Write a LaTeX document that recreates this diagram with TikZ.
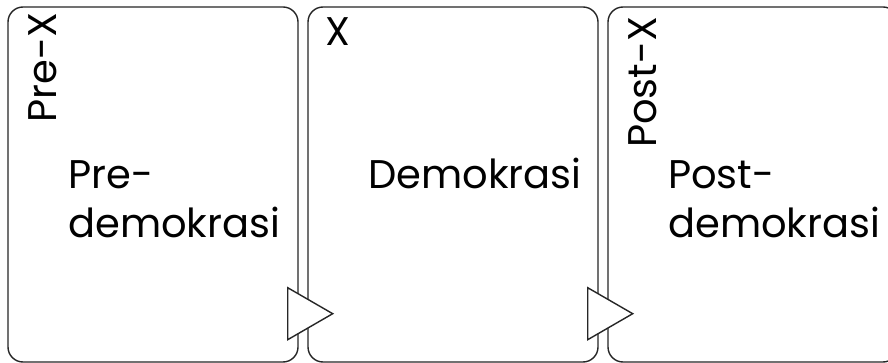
\documentclass[tikz,border=0pt]{standalone}
\usepackage{fontspec}
\setmainfont{Poppins}
\usetikzlibrary{calc}

\begin{document}
\begin{tikzpicture}[x=1pt,y=-1pt]
\tikzset{
	stage/.style={draw=black!85,line width=1.4pt,rounded corners=15pt,
		minimum width=290pt,minimum height=355pt,inner sep=0pt},
	bigtext/.style={font=\fontsize{40}{48}\selectfont,anchor=base west,inner sep=0pt},
	arrowtip/.style={draw=black!85,line width=1.4pt,fill=white,line join=miter}
}
\clip (0,0) rectangle (888,363);
\fill[white] (0,0) rectangle (888,363);
% the three stages
\node(pre)[stage] at (153,184.5) {};
\node(demo)[stage] at (453,184.5) {};
\node(post)[stage] at (753,184.5) {};
% small labels in the corners
\node(labelpre)[bigtext,rotate=90] at (56,123) {Pre-X};
\node(labeldemo)[bigtext] at (325,46) {X};
\node(labelpost)[bigtext,rotate=90] at (656,148) {Post-X};
% main texts
\node(textpre)[bigtext] at (68,189) {Pre-};
\node(textpre2)[bigtext] at (68,237) {demokrasi};
\node(textdemo)[bigtext] at (368,189) {Demokrasi};
\node(textpost)[bigtext] at (668,189) {Post-};
\node(textpost2)[bigtext] at (668,237) {demokrasi};
% arrows between stages
\draw[arrowtip] ($(pre.south east)+(-11,-75)$) -- ++(45,26) -- ++(-45,26) -- cycle;
\draw[arrowtip] ($(demo.south east)+(-11,-75)$) -- ++(45,26) -- ++(-45,26) -- cycle;
\end{tikzpicture}
\end{document}
